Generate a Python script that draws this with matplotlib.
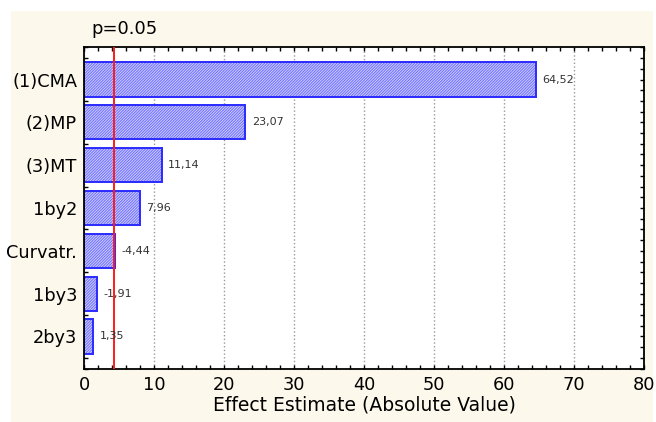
import matplotlib
matplotlib.use("Agg")
import matplotlib.pyplot as plt
from matplotlib.patches import Rectangle
from matplotlib.ticker import MultipleLocator

categories = ["(1)CMA", "(2)MP", "(3)MT", "1by2", "Curvatr.", "1by3", "2by3"]
effects = [64.52, 23.07, 11.14, 7.96, -4.44, -1.91, 1.35]
p_crit = 4.30
x_ticks = [0, 10, 20, 30, 40, 50, 60, 70, 80]

plt.rcParams['font.family'] = ['DejaVu Sans']
plt.rcParams['hatch.linewidth'] = 0.8

fig = plt.figure(figsize=(6.56, 4.22), dpi=100, facecolor='white')
fig.patches.append(Rectangle((11/656, 0), (653-11)/656, (422-11)/422,
                             transform=fig.transFigure, facecolor='#fcf8ec',
                             edgecolor='none', zorder=-10))
ax = fig.add_axes([84/656, (422-369)/422, (644-84)/656, (369-47)/422])
ax.set_facecolor('white')

ypos = list(range(len(categories)))
vals = [abs(v) for v in effects]
ax.barh(ypos, vals, height=0.8, facecolor='#d4d4ff', edgecolor='#7474ff',
        linewidth=0, hatch='/' * 12, zorder=2)
ax.barh(ypos, vals, height=0.8, facecolor='none', edgecolor='#2a2aff',
        linewidth=1.4, zorder=2.5)
for y, v, e in zip(ypos, vals, effects):
    ax.annotate(f"{e:.2f}".replace('.', ','), xy=(v, y), xytext=(4.5, 0),
                textcoords='offset points', va='center', ha='left',
                fontsize=8, color='#333333', zorder=4)

ax.axvline(p_crit, color='#ff1a1a', linewidth=1.4, zorder=3)

ax.set_xlim(0, 80)
ax.set_ylim(6.76, -0.76)
ax.set_xticks(x_ticks)
ax.set_xticklabels([str(t) for t in x_ticks])
ax.set_yticks(ypos)
ax.set_yticklabels(categories)
ax.xaxis.set_minor_locator(MultipleLocator(2))
ax.yaxis.set_minor_locator(MultipleLocator(0.25))
ax.tick_params(axis='both', which='both', direction='in', top=True, right=True,
               width=1.0, color='black')
ax.tick_params(axis='both', which='major', length=3, labelsize=12.8, pad=5)
ax.tick_params(axis='both', which='minor', length=3)
ax.grid(axis='x', which='major', linestyle=':', color='#999999', linewidth=1.0, zorder=1)
ax.set_axisbelow(True)
for s in ax.spines.values():
    s.set_linewidth(1.3)
    s.set_color('black')

ax.set_xlabel("Effect Estimate (Absolute Value)", fontsize=13.5, labelpad=1)
fig.text(91/656, (422-34)/422, "p=0.05", fontsize=13, ha='left', va='baseline')

fig.savefig("out.png", dpi=100, facecolor='white')
